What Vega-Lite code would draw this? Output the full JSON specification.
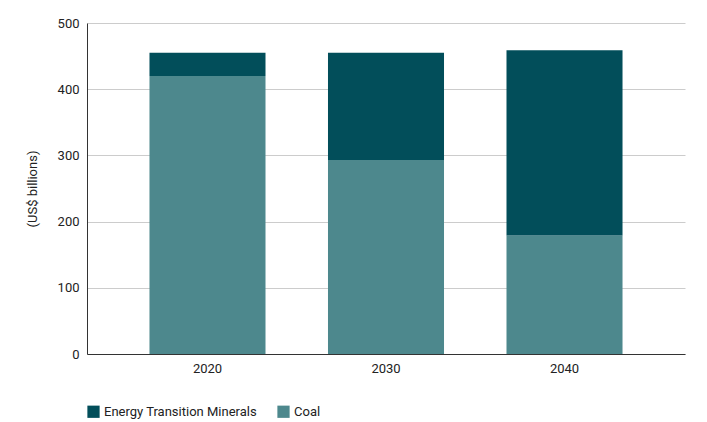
{
  "$schema": "https://vega.github.io/schema/vega-lite/v6.json",
  "autosize": "none",
  "padding": {"left": 87, "top": 23, "right": 22, "bottom": 68},
  "width": 598,
  "height": 331,
  "background": "white",
  "config": {"font": "Roboto", "view": {"stroke": null}},
  "data": {"values": [
    {"year": "2020", "type": "Coal", "value": 420, "ord": 1},
    {"year": "2020", "type": "Energy Transition Minerals", "value": 35, "ord": 2},
    {"year": "2030", "type": "Coal", "value": 293, "ord": 1},
    {"year": "2030", "type": "Energy Transition Minerals", "value": 162, "ord": 2},
    {"year": "2040", "type": "Coal", "value": 179, "ord": 1},
    {"year": "2040", "type": "Energy Transition Minerals", "value": 280, "ord": 2}
  ]},
  "mark": {"type": "bar"},
  "encoding": {
    "x": {"field": "year", "type": "nominal", "title": null,
      "scale": {"paddingInner": 0.35, "paddingOuter": 0.35},
      "axis": {"labelAngle": 0, "labelFontSize": 13, "labelColor": "#222", "ticks": false, "domainColor": "#333", "labelPadding": 8}},
    "y": {"field": "value", "type": "quantitative", "stack": "zero",
      "scale": {"domain": [0, 500]},
      "title": "(US$ billions)",
      "axis": {"values": [0, 100, 200, 300, 400, 500], "labelFontSize": 13, "labelColor": "#222", "ticks": false, "domain": true, "domainColor": "#333", "gridColor": "#cccccc", "titleFontSize": 13, "titleFontWeight": "normal", "titleColor": "#222", "titlePadding": 18, "labelPadding": 8}},
    "color": {"field": "type", "type": "nominal",
      "scale": {"domain": ["Energy Transition Minerals", "Coal"], "range": ["#024e5a", "#4d888d"]},
      "legend": {"orient": "bottom", "title": null, "symbolType": "square", "symbolSize": 150, "labelFontSize": 13, "labelColor": "#222", "offset": 30, "columnPadding": 20, "symbolStrokeWidth": 0}},
    "order": {"field": "ord", "type": "quantitative"}
  }
}
